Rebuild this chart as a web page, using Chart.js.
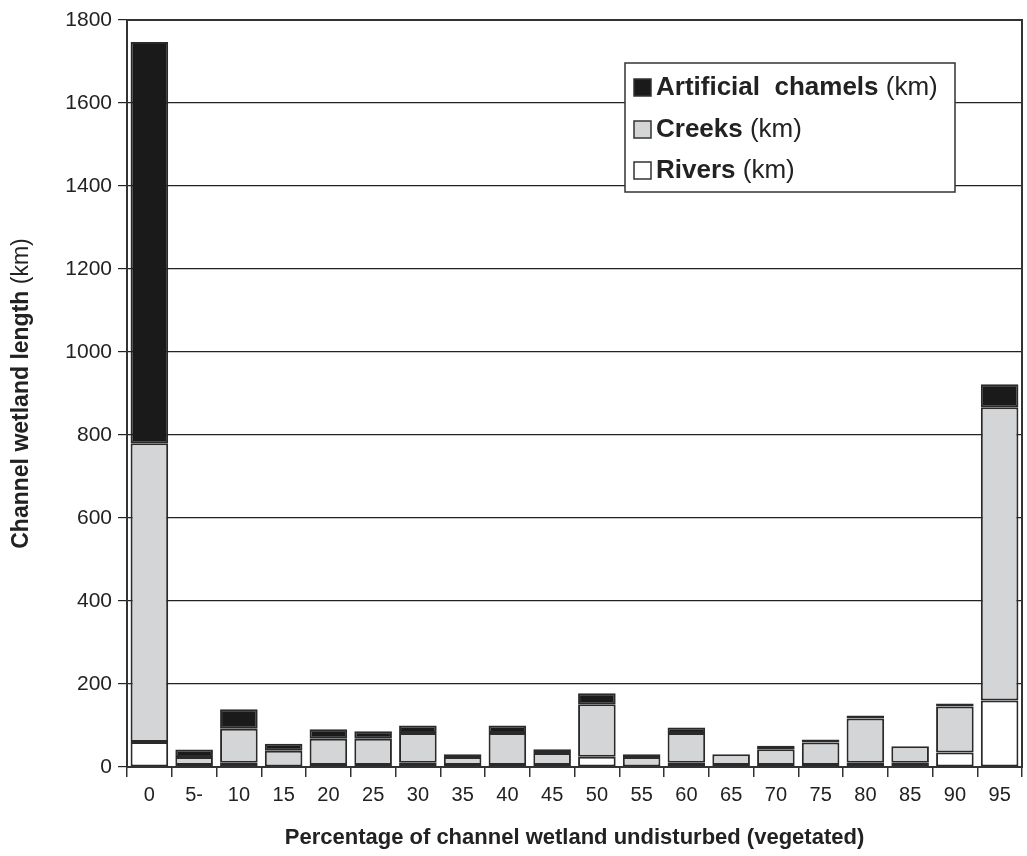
<!DOCTYPE html>
<html lang="en">
<head>
    <meta charset="UTF-8">
    <title>Channel wetland length</title>
    <script src="https://cdn.jsdelivr.net/npm/chart.js@4.4.0/dist/chart.umd.min.js"></script>
    <style>
        body { margin: 0; background: #fff; }
        #wrap { width: 1027px; height: 856px; }
    </style>
</head>
<body>
    <div id="wrap">
        <canvas id="lengthChart" width="1027" height="856"></canvas>
    </div>

    <script>
        // values (km)
        const categories = ['0', '5-', '10', '15', '20', '25', '30', '35', '40', '45',
                            '50', '55', '60', '65', '70', '75', '80', '85', '90', '95'];
        const rivers     = [60, 5, 10, 0, 5, 5, 10, 5, 5, 5, 25, 0, 10, 5, 5, 5, 10, 10, 35, 160];
        const creeks     = [720, 19, 82, 39, 63, 63, 72, 19, 77, 29, 126, 24, 72, 26, 38, 54, 107, 40, 111, 707];
        const artificial = [967, 18, 47, 17, 23, 18, 18, 7, 18, 9, 27, 7, 13, 0, 8, 7, 7, 0, 7, 55];
        const yTicks     = [0, 200, 400, 600, 800, 1000, 1200, 1400, 1600, 1800];

        const FONT = "'Liberation Sans', Arial, sans-serif";
        const INK = '#222';

        // legend entries: bold part + normal part
        const legendItems = [
            { bold: 'Artificial  chamels ', normal: '(km)', color: '#1a1a1a' },
            { bold: 'Creeks ', normal: '(km)', color: '#d4d5d7' },
            { bold: 'Rivers ', normal: '(km)', color: '#ffffff' }
        ];

        const extras = {
            id: 'extras',
            afterDraw(chart) {
                const ctx = chart.ctx;
                const a = chart.chartArea;
                ctx.save();

                // plot frame
                ctx.strokeStyle = '#333';
                ctx.lineWidth = 2;
                ctx.strokeRect(a.left, a.top, a.right - a.left, a.bottom - a.top);

                // y title (bold + normal)
                ctx.fillStyle = INK;
                ctx.textBaseline = 'middle';
                const yb = 'Channel wetland length ';
                const yn = '(km)';
                ctx.font = 'bold 23px ' + FONT;
                const wb = ctx.measureText(yb).width;
                ctx.font = '23px ' + FONT;
                const wn = ctx.measureText(yn).width;
                ctx.translate(22, (a.top + a.bottom) / 2);
                ctx.rotate(-Math.PI / 2);
                ctx.textAlign = 'left';
                ctx.font = 'bold 23px ' + FONT;
                ctx.fillText(yb, -(wb + wn) / 2, 0);
                ctx.font = '23px ' + FONT;
                ctx.fillText(yn, -(wb + wn) / 2 + wb, 0);
                ctx.setTransform(1, 0, 0, 1, 0, 0);

                // x title
                ctx.textAlign = 'center';
                ctx.font = 'bold 22px ' + FONT;
                ctx.fillText('Percentage of channel wetland undisturbed (vegetated)',
                             (a.left + a.right) / 2, 838);

                // legend box
                const bx = 625, by = 63, bw = 330, bh = 129;
                ctx.fillStyle = '#fff';
                ctx.fillRect(bx, by, bw, bh);
                ctx.strokeStyle = '#333';
                ctx.lineWidth = 1.5;
                ctx.strokeRect(bx, by, bw, bh);
                const rows = [87, 129, 170];
                legendItems.forEach((it, i) => {
                    const cy = rows[i];
                    ctx.fillStyle = it.color;
                    ctx.fillRect(634, cy - 8, 17, 17);
                    ctx.strokeStyle = '#333';
                    ctx.lineWidth = 1.5;
                    ctx.strokeRect(634, cy - 8, 17, 17);
                    ctx.fillStyle = INK;
                    ctx.textAlign = 'left';
                    ctx.font = 'bold 26px ' + FONT;
                    ctx.fillText(it.bold, 656, cy + 1);
                    const w = ctx.measureText(it.bold).width;
                    ctx.font = '26px ' + FONT;
                    ctx.fillText(it.normal, 656 + w, cy + 1);
                });
                ctx.restore();
            }
        };

        const barStyle = {
            borderColor: '#2a2a2a',
            borderWidth: 2,
            borderSkipped: false,
            barPercentage: 0.84,
            categoryPercentage: 1.0
        };

        new Chart(document.getElementById('lengthChart'), {
            type: 'bar',
            data: {
                labels: categories,
                datasets: [
                    Object.assign({ label: 'Rivers (km)', data: rivers, backgroundColor: '#ffffff' }, barStyle),
                    Object.assign({ label: 'Creeks (km)', data: creeks, backgroundColor: '#d4d5d7' }, barStyle),
                    Object.assign({ label: 'Artificial  chamels (km)', data: artificial, backgroundColor: '#1a1a1a' }, barStyle)
                ]
            },
            options: {
                responsive: false,
                animation: false,
                layout: { padding: { top: 20, right: 5, left: 0, bottom: 0 } },
                plugins: {
                    legend: { display: false },
                    tooltip: { enabled: false }
                },
                scales: {
                    x: {
                        stacked: true,
                        grid: {
                            offset: true,
                            drawOnChartArea: false,
                            drawTicks: true,
                            tickLength: 10,
                            color: '#333',
                            lineWidth: 1.5
                        },
                        border: { display: true, color: '#333', width: 2 },
                        ticks: {
                            color: INK,
                            font: { family: FONT, size: 20 },
                            padding: 6,
                            maxRotation: 0,
                            autoSkip: false
                        },
                        afterFit(scale) { scale.height = 89; }
                    },
                    y: {
                        stacked: true,
                        min: 0,
                        max: 1800,
                        afterBuildTicks(scale) {
                            scale.ticks = yTicks.map(v => ({ value: v }));
                        },
                        grid: {
                            color: '#222',
                            lineWidth: 1.2,
                            tickLength: 9
                        },
                        border: { display: true, color: '#333', width: 2 },
                        ticks: {
                            color: INK,
                            font: { family: FONT, size: 21 },
                            padding: 6,
                            callback: v => String(v)
                        },
                        afterFit(scale) { scale.width = 127; }
                    }
                }
            },
            plugins: [extras]
        });
    </script>
</body>
</html>
